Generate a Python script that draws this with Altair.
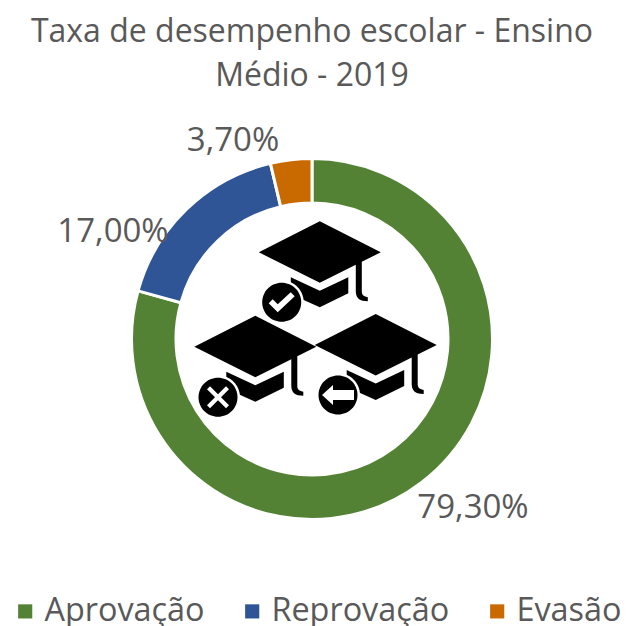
import altair as alt
import pandas as pd

categories = ["Aprovação", "Reprovação", "Evasão"]
values = [79.3, 17.0, 3.7]
labels = ["79,30%", "17,00%", "3,70%"]
colors = ["#548235", "#2F5597", "#C96A00"]

FONT = "Open Sans"
GREY = "#595959"
TOP = 130
CX, CY = 304, 339 - 8 - TOP

df = pd.DataFrame({"categoria": categories, "valor": values, "ordem": [0, 1, 2]})

arc = alt.Chart(df).mark_arc(
    outerRadius=180.5, innerRadius=136, stroke="white", strokeWidth=3
).encode(
    theta=alt.Theta("valor:Q", stack=True, scale=alt.Scale(domain=[0, 100], range=[0, 6.28318530718])),
    order=alt.Order("ordem:Q"),
    color=alt.Color(
        "categoria:N",
        sort=categories,
        scale=alt.Scale(domain=categories, range=colors),
        legend=alt.Legend(
            title=None, orient="none", direction="horizontal", columns=3,
            legendX=1, legendY=595 - TOP - 8,
            symbolType="square", symbolSize=200, symbolStrokeWidth=0,
            labelFont=FONT, labelFontSize=32.4, labelColor=GREY,
            labelOffset=3, columnPadding=31, labelLimit=300, padding=0,
        ),
    ),
    x=alt.value(CX),
    y=alt.value(CY),
)

def text(label, px, py):
    return alt.Chart(pd.DataFrame({"t": [label]})).mark_text(
        font=FONT, fontSize=33, color=GREY, align="center", baseline="middle"
    ).encode(text="t:N", x=alt.value(px - 8), y=alt.value(py - 8 - TOP))

CAP = ("M0,-31L61,0L42,9.5L42,39C42,42 43,44 48,45L48,49C40,49 36,46 36,39L36,12.5L0,30.5L-61,0Z"
       "M-29,25L0,38.5L28.5,25L28.5,41L0,55L-20,46L-29,38Z")
def circle(r):
    return f"M{-r},0A{r},{r} 0 1,0 {r},0A{r},{r} 0 1,0 {-r},0Z"
CHECK = "M-13,1L-9,-3L-4,2L9,-10L13,-6L-4,10Z"
CROSS = ("M-11,-8L-8,-11L0,-3L8,-11L11,-8L3,0L11,8L8,11L0,3L-8,11L-11,8L-3,0Z")
ARROW = "M-16,0L-5,-10L-5,-5L16,-5L16,5L-5,5L-5,10Z"

def shape(path, color, px, py):
    return alt.Chart(pd.DataFrame({"a": [1]})).mark_point(
        shape=path, size=4, filled=True, fill=color, stroke=None, opacity=1
    ).encode(x=alt.value(px - 8), y=alt.value(py - 8 - TOP))

icons = []
for (cx, cy, bx, by, glyph) in [
    (319.8, 252.3, 281.7, 302.3, CHECK),
    (255.3, 346.7, 218, 397.3, CROSS),
    (375.7, 345, 338, 395, ARROW),
]:
    icons += [
        shape(CAP, "black", cx, cy),
        shape(circle(22), "white", bx, by),
        shape(circle(19.5), "black", bx, by),
        shape(glyph, "white", bx, by),
    ]

chart = alt.layer(
    arc, *icons,
    text(labels[0], 473, 508), text(labels[1], 113, 232), text(labels[2], 233, 141),
).properties(
    width=614,
    height=618 - TOP,
    padding={"left": 0, "right": 0, "top": TOP, "bottom": 0},
    autosize=alt.AutoSizeParams(type="none"),
    title=alt.TitleParams(
        text=["Taxa de desempenho escolar - Ensino", "Médio - 2019"],
        font=FONT, fontSize=32, fontWeight="normal", color=GREY,
        anchor="middle", lineHeight=44, offset=32, dx=-3,
    ),
).configure_view(stroke=None)

chart.save("out.html", embed_options={"renderer": "svg", "actions": False})
